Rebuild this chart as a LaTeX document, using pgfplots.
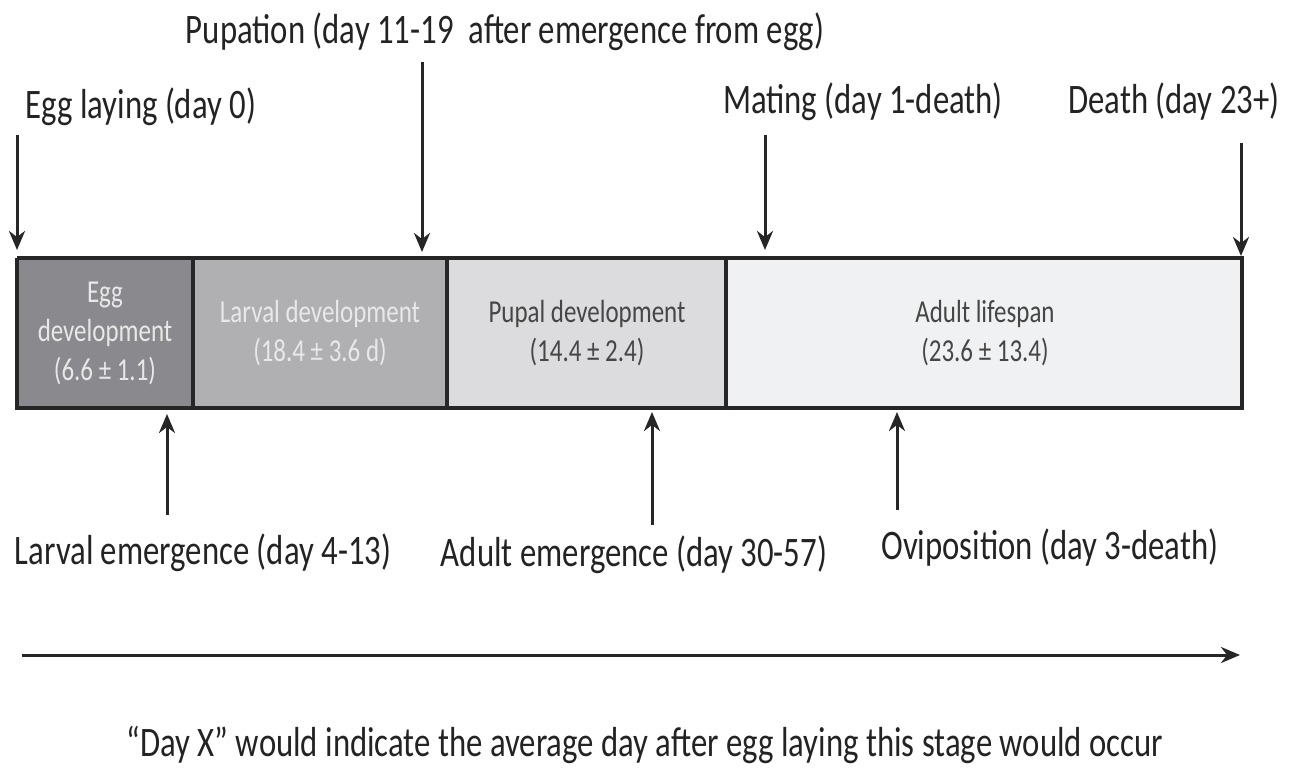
\documentclass[border=0pt]{standalone}
\usepackage{pgfplots}
\pgfplotsset{compat=1.18}
\usetikzlibrary{arrows.meta}
\usepackage{fontspec}
\setmainfont{Carlito}[FakeStretch=0.78]
\definecolor{cEgg}{RGB}{138,138,142}
\definecolor{cLar}{RGB}{176,176,179}
\definecolor{cPup}{RGB}{220,220,222}
\definecolor{cAdu}{RGB}{240,241,242}
\definecolor{lt}{RGB}{232,232,232}
\definecolor{dk}{RGB}{70,70,70}
\definecolor{tx}{RGB}{35,35,35}
\newcommand\bigf{\fontsize{42}{48}\selectfont}
\newcommand\boxf{\fontsize{32}{39}\selectfont}
\tikzset{arr/.style={-{Stealth[length=19pt,width=16pt,inset=6pt]}, line width=3pt, black!85}}
\begin{document}
\begin{tikzpicture}
\begin{axis}[
  scale only axis, width=1291pt, height=774pt,
  xmin=0, xmax=1291, ymin=0, ymax=774, y dir=reverse,
  axis lines=none, clip=false,
]
\addplot[draw=none, mark=none] coordinates {(0,0) (1291,774)};
% boxes
\addplot[fill=cEgg, draw=black!85, line width=4pt] coordinates {(17,258) (193,258) (193,408) (17,408) (17,258)};
\addplot[fill=cLar, draw=black!85, line width=4pt] coordinates {(193,258) (447,258) (447,408) (193,408) (193,258)};
\addplot[fill=cPup, draw=black!85, line width=4pt] coordinates {(447,258) (726,258) (726,408) (447,408) (447,258)};
\addplot[fill=cAdu, draw=black!85, line width=4pt] coordinates {(726,258) (1242,258) (1242,408) (726,408) (726,258)};
% top arrows
\addplot[arr] coordinates {(17,135) (17,250)};
\addplot[arr] coordinates {(422,62) (422,252)};
\addplot[arr] coordinates {(765,135) (765,250)};
\addplot[arr] coordinates {(1241,143) (1241,256)};
% bottom arrows
\addplot[arr] coordinates {(167,515) (167,414)};
\addplot[arr] coordinates {(652,525) (652,412)};
\addplot[arr] coordinates {(897,510) (897,412)};
% timeline arrow
\addplot[arr] coordinates {(22,655) (1240,655)};
% labels
\node[font=\bigf, text=tx] at (axis cs:505,32) {Pupation (day 11-19\ \ after emergence from egg)};
\node[font=\bigf, text=tx, anchor=west] at (axis cs:22,107) {Egg laying (day 0)};
\node[font=\bigf, text=tx] at (axis cs:863,102) {Mating (day 1-death)};
\node[font=\bigf, text=tx] at (axis cs:1174,102) {Death (day 23+)};
\node[font=\bigf, text=tx] at (axis cs:203,553) {Larval emergence (day 4-13)};
\node[font=\bigf, text=tx] at (axis cs:634,555) {Adult emergence (day 30-57)};
\node[font=\bigf, text=tx] at (axis cs:1050,548) {Oviposition (day 3-death)};
\node[font=\bigf, text=tx] at (axis cs:645,745) {“Day X” would indicate the average day after egg laying this stage would occur};
% box texts
\node[font=\boxf, text=lt, align=center] at (axis cs:105,333) {Egg\\development\\(6.6 ± 1.1)};
\node[font=\boxf, text=lt, align=center] at (axis cs:320,333) {Larval development\\(18.4 ± 3.6 d)};
\node[font=\boxf, text=dk, align=center] at (axis cs:587,333) {Pupal development\\(14.4 ± 2.4)};
\node[font=\boxf, text=dk, align=center] at (axis cs:985,333) {Adult lifespan\\(23.6 ± 13.4)};
\end{axis}
\end{tikzpicture}
\end{document}
